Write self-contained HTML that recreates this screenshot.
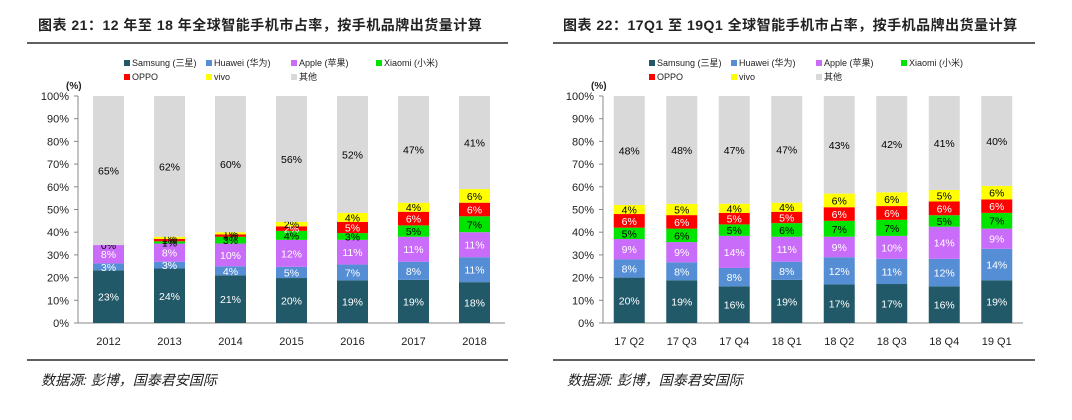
<!DOCTYPE html>
<html><head><meta charset="utf-8">
<style>
body{margin:0;background:#fff;width:1072px;height:415px;overflow:hidden;font-family:"Liberation Sans","Noto Sans CJK SC",sans-serif;}
svg text{font-family:"Liberation Sans","Noto Sans CJK SC",sans-serif;}
</style></head>
<body>
<svg id="c" width="1072" height="415"></svg>
<script>
const catsA=["2012","2013","2014","2015","2016","2017","2018"];
const samsungA=[23,24,21,20,19,19,18];
const huaweiA=[3,3,4,5,7,8,11];
const appleA=[8,8,10,12,11,11,11];
const xiaomiA=[0,1,3,4,3,5,7];
const oppoA=[0,1,1,2,5,6,6];
const vivoA=[0,1,1,2,4,4,6];
const otherA=[65,62,60,56,52,47,41];
const catsB=["17 Q2","17 Q3","17 Q4","18 Q1","18 Q2","18 Q3","18 Q4","19 Q1"];
const samsungB=[20,19,16,19,17,17,16,19];
const huaweiB=[8,8,8,8,12,11,12,14];
const appleB=[9,9,14,11,9,10,14,9];
const xiaomiB=[5,6,5,6,7,7,5,7];
const oppoB=[6,6,5,5,6,6,6,6];
const vivoB=[4,5,4,4,6,6,5,6];
const otherB=[48,48,47,47,43,42,41,40];
const yTicks=["0%","10%","20%","30%","40%","50%","60%","70%","80%","90%","100%"];
const seriesNames=["Samsung (三星)","Huawei (华为)","Apple (苹果)","Xiaomi (小米)","OPPO","vivo","其他"];
const colors=["#215968","#558ed5","#c96cf9","#00e400","#ff0000","#ffff00","#d9d9d9"];
const textCol=["#fff","#fff","#fff","#000","#fff","#000","#000"];
const NS="http://www.w3.org/2000/svg";
const svg=document.getElementById('c');
function el(t,a,p){const e=document.createElementNS(NS,t);for(const k in a)e.setAttribute(k,a[k]);(p||svg).appendChild(e);return e;}
function txt(x,y,s,a,p){const e=el('text',Object.assign({x:x,y:y},a),p);e.textContent=s;return e;}

function chart(o){
  const g=el('g',{});
  
  
  const t=txt(o.tx,30,o.title,{'font-size':'14','font-weight':'bold',fill:'#222','letter-spacing':'0.5'},g);
  
  
  const l1=el('line',{x1:o.lx1,x2:o.lx2,y1:43,y2:43,stroke:'#000','stroke-width':1.2},g);
  
  
  const l2=el('line',{x1:o.lx1,x2:o.lx2,y1:360,y2:360,stroke:'#000','stroke-width':1.2},g);
  
  
  const s=txt(o.lx1+14,385,'数据源:   彭博，国泰君安国际',{'font-size':'14','font-style':'italic',fill:'#222'},g);
  
  
  const lx=[o.ax+46,o.ax+128,o.ax+213,o.ax+298];
  seriesNames.forEach((n,i)=>{
    const x=lx[i%4], y=i<4?66:80;
    const lg=el('g',{},g);
    
    
    el('rect',{x:x,y:y-6,width:6,height:6,fill:colors[i]},lg);
    txt(x+8,y,n,{'font-size':'9',fill:'#222'},lg);
  });
  const u=txt(o.ax-12,89,'(%)',{'font-size':'10','font-weight':'bold',fill:'#222'},g);
  
  
  const y0=323,y1=96;
  const Y=v=>y0-(y0-y1)*v/100;
  yTicks.forEach((tk,i)=>{
    const v=i*10;
    const e=txt(o.ax-9,Y(v)+4,tk,{'font-size':'11','text-anchor':'end',fill:'#222'},g);
    
    
    el('line',{x1:o.ax-4,x2:o.ax,y1:Y(v),y2:Y(v),stroke:'#888'},g);
  });
  el('line',{x1:o.ax,x2:o.ax,y1:y1,y2:y0,stroke:'#888'},g);
  el('line',{x1:o.ax,x2:o.ax+o.step*o.cats.length,y1:y0,y2:y0,stroke:'#888'},g);
  const X=i=>o.ax+o.step*(i+0.5);
  o.cats.forEach((c,i)=>{
    const vals=o.series.map(s=>s[i]);
    const tot=vals.reduce((a,b)=>a+b,0);
    let acc=0;
    const bg=el('g',{},g);
    
    
    vals.forEach((v,k)=>{
      const a=acc/tot*100,b=(acc+v)/tot*100;acc+=v;
      const r=el('rect',{x:X(i)-15.5,y:Y(b),width:31,height:Math.max(0,Y(a)-Y(b)),fill:colors[k]},bg);
      
      
      if(k==6||v>0||k==3){
        const lb=txt(X(i),(Y(a)+Y(b))/2+4,v+'%',{'font-size':'10.5','text-anchor':'middle',fill:(k==6?'#000':textCol[k])},bg);
        if(v<=1&&k>=3) lb.setAttribute('fill','#000');
      }
    });
    const cl=txt(X(i),345,c,{'font-size':'11','text-anchor':'middle',fill:'#222'},g);
    
    
  });
}
chart({name:'chart-annual',title:'图表 21：12 年至 18 年全球智能手机市占率，按手机品牌出货量计算',tx:38,lx1:27,lx2:508,ax:78,step:61,cats:catsA,
  series:[samsungA,huaweiA,appleA,xiaomiA,oppoA,vivoA,otherA]});
chart({name:'chart-quarterly',title:'图表 22：17Q1 至 19Q1 全球智能手机市占率，按手机品牌出货量计算',tx:563,lx1:553,lx2:1035,ax:603,step:52.5,cats:catsB,
  series:[samsungB,huaweiB,appleB,xiaomiB,oppoB,vivoB,otherB]});
</script>
</body></html>
